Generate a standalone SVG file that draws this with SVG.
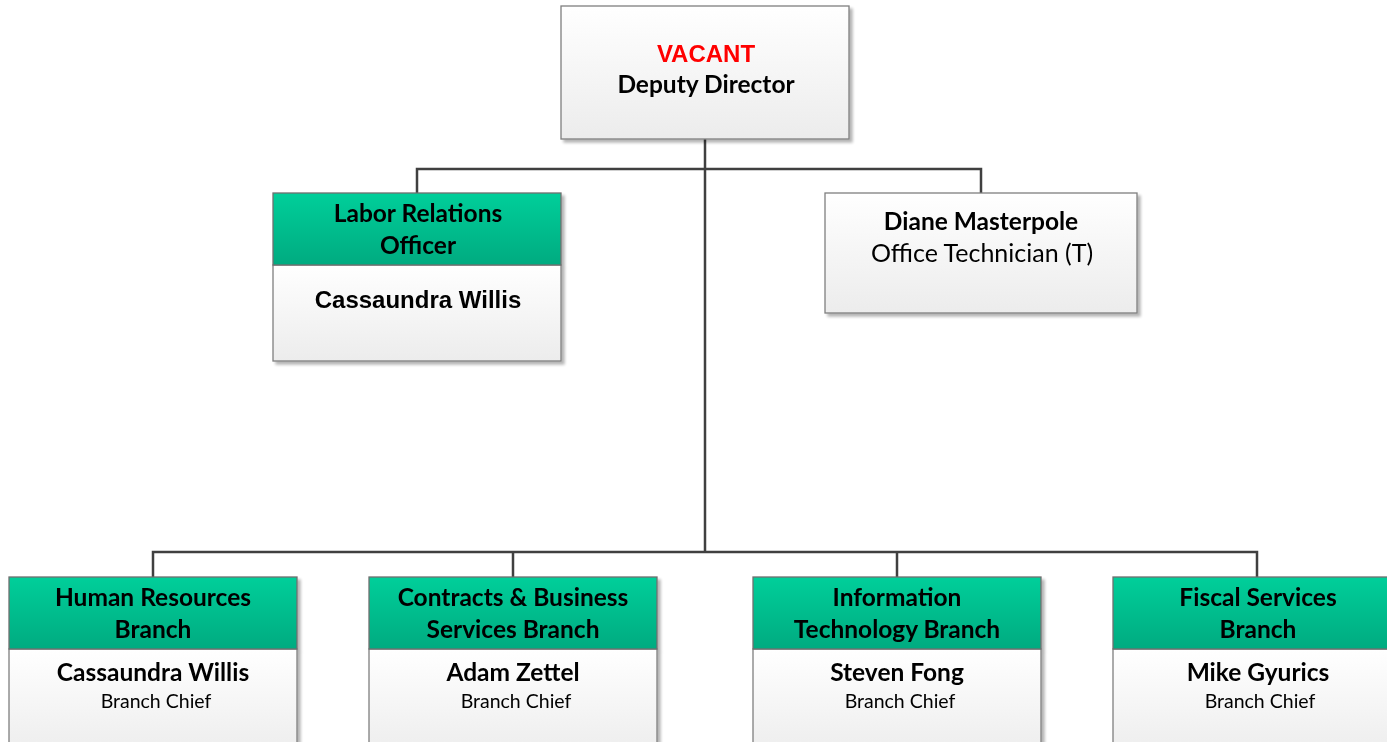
<svg xmlns="http://www.w3.org/2000/svg" width="1387" height="742" viewBox="0 0 1387 742">
<defs>
<linearGradient id="wg" x1="0" y1="0" x2="0" y2="1"><stop offset="0" stop-color="#ffffff"/><stop offset="1" stop-color="#ececec"/></linearGradient>
<linearGradient id="gg" x1="0" y1="0" x2="0" y2="1"><stop offset="0" stop-color="#00cf9a"/><stop offset="1" stop-color="#00ab80"/></linearGradient>
<filter id="sh" x="-5%" y="-5%" width="115%" height="115%"><feGaussianBlur in="SourceAlpha" stdDeviation="1.5"/><feOffset dx="3" dy="3"/><feComponentTransfer><feFuncA type="linear" slope="0.3"/></feComponentTransfer><feMerge><feMergeNode/><feMergeNode in="SourceGraphic"/></feMerge></filter>
<style>
.box{fill:url(#wg);stroke:#7f7f7f;stroke-width:1.3}
.hdr{fill:url(#gg);stroke:#6f6f6f;stroke-width:1.3}
.con{fill:none;stroke:#404040;stroke-width:2.5}
text{text-anchor:middle;fill:#000}
.c{font-family:Lato,"Noto Sans",sans-serif;font-weight:bold;font-size:24.5px}
.cn{font-family:Lato,"Noto Sans",sans-serif;font-size:25px}
.cs{font-family:Lato,"Noto Sans",sans-serif;font-size:19.5px}
.a{font-family:"Liberation Sans",Arial,sans-serif;font-weight:bold;font-size:24px}
</style>
</defs>
<g id="connectors">
<path class="con" d="M705 139V552M417 193V169H981V193M153 577V552H1257V577M513 552V577M897 552V577"/>
</g>
<g id="deputy" filter="url(#sh)">
<rect class="box" x="561" y="6" width="288" height="133"/>
<text class="a" x="706" y="62" style="fill:#ff0000">VACANT</text>
<text class="c" x="706" y="93">Deputy Director</text>
</g>
<g id="labor" filter="url(#sh)">
<rect class="box" x="273" y="265" width="288" height="96"/>
<rect class="hdr" x="273" y="193" width="288" height="72"/>
<text class="c" x="418" y="222">Labor Relations</text>
<text class="c" x="418" y="254">Officer</text>
<text class="a" x="418" y="308">Cassaundra Willis</text>
</g>
<g id="diane" filter="url(#sh)">
<rect class="box" x="825" y="193" width="312" height="120"/>
<text class="c" x="981" y="230">Diane Masterpole</text>
<text class="cn" x="982" y="262">Office Technician (T)</text>
</g>
<g id="hr" filter="url(#sh)">
<rect class="box" x="9" y="649" width="288" height="110"/>
<rect class="hdr" x="9" y="577" width="288" height="72"/>
<text class="c" x="153" y="606">Human Resources</text>
<text class="c" x="153" y="638">Branch</text>
<text class="c" x="153" y="681">Cassaundra Willis</text>
<text class="cs" x="156" y="708">Branch Chief</text>
</g>
<g id="contracts" filter="url(#sh)">
<rect class="box" x="369" y="649" width="288" height="110"/>
<rect class="hdr" x="369" y="577" width="288" height="72"/>
<text class="c" x="513" y="606">Contracts &amp; Business</text>
<text class="c" x="513" y="638">Services Branch</text>
<text class="c" x="513" y="681">Adam Zettel</text>
<text class="cs" x="516" y="708">Branch Chief</text>
</g>
<g id="it" filter="url(#sh)">
<rect class="box" x="753" y="649" width="288" height="110"/>
<rect class="hdr" x="753" y="577" width="288" height="72"/>
<text class="c" x="897" y="606">Information</text>
<text class="c" x="897" y="638">Technology Branch</text>
<text class="c" x="897" y="681">Steven Fong</text>
<text class="cs" x="900" y="708">Branch Chief</text>
</g>
<g id="fiscal" filter="url(#sh)">
<rect class="box" x="1113" y="649" width="288" height="110"/>
<rect class="hdr" x="1113" y="577" width="288" height="72"/>
<text class="c" x="1258" y="606">Fiscal Services</text>
<text class="c" x="1258" y="638">Branch</text>
<text class="c" x="1258" y="681">Mike Gyurics</text>
<text class="cs" x="1260" y="708">Branch Chief</text>
</g>
</svg>
